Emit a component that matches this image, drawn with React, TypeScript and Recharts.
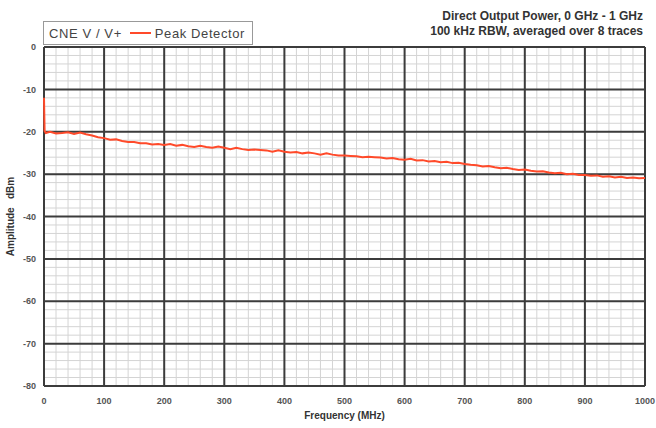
import { LineChart, Line, XAxis, YAxis, CartesianGrid, Legend } from 'recharts';

// trace (MHz vs dBm)
const freqMHz = [
  0, 1, 3, 10, 20, 30, 40, 50, 60, 70, 80, 90, 100, 110, 120, 130, 140, 150, 160, 170, 180, 190,
  200, 210, 220, 230, 240, 250, 260, 270, 280, 290, 300, 310, 320, 330, 340, 350, 360, 370, 380, 390,
  400, 410, 420, 430, 440, 450, 460, 470, 480, 490, 500, 510, 520, 530, 540, 550, 560, 570, 580, 590,
  600, 610, 620, 630, 640, 650, 660, 670, 680, 690, 700, 710, 720, 730, 740, 750, 760, 770, 780, 790,
  800, 810, 820, 830, 840, 850, 860, 870, 880, 890, 900, 910, 920, 930, 940, 950, 960, 970, 980, 990, 1000,
];
const peakDbm = [
  -12, -19.8, -20.3, -20.0, -20.4, -20.3, -20.1, -20.5, -20.2, -20.6, -20.9, -21.3, -21.5, -21.9, -21.8, -22.2, -22.4, -22.4, -22.7, -22.7, -23.0, -22.9,
  -23.1, -22.9, -23.3, -23.1, -23.4, -23.6, -23.3, -23.6, -23.8, -23.5, -23.8, -24.1, -23.8, -24.1, -24.3, -24.2, -24.3, -24.4, -24.7, -24.4,
  -24.7, -24.9, -24.8, -25.1, -24.9, -25.1, -25.4, -25.1, -25.4, -25.6, -25.6, -25.7, -25.8, -26.0, -25.9, -26.0, -26.1, -26.3, -26.2, -26.5,
  -26.6, -26.4, -26.8, -26.7, -27.0, -26.9, -27.2, -27.1, -27.4, -27.3, -27.6, -27.8, -27.9, -28.2, -28.1, -28.4, -28.6, -28.5, -28.8, -29.0,
  -28.9, -29.2, -29.4, -29.3, -29.6, -29.8, -29.7, -30.0, -29.9, -30.2, -30.2, -30.4, -30.3, -30.6, -30.5, -30.8, -30.6, -30.9, -30.8, -31.0, -30.9,
];

const xTicks = [0, 100, 200, 300, 400, 500, 600, 700, 800, 900, 1000];
const yTicks = [0, -10, -20, -30, -40, -50, -60, -70, -80];
const xMinorTicks = Array.from({ length: 51 }, (_, i) => i * 20);
const yMinorTicks = Array.from({ length: 41 }, (_, i) => -i * 2);

const data = freqMHz.map((f, i) => ({ f, peak: peakDbm[i] }));

const font = '"Liberation Sans", Arial, sans-serif';
const tickStyle = { fontSize: 9, fill: '#555', fontWeight: 700, fontFamily: font };
const labelStyle = { fontSize: 10, fontWeight: 700, fill: '#333', fontFamily: font };

function LegendBox() {
  return (
    <div style={{
      border: '1px solid #999', background: '#fff', height: 22, width: 208,
      display: 'flex', alignItems: 'center', fontFamily: font, fontSize: 13, color: '#444',
      letterSpacing: 0.6, whiteSpace: 'nowrap',
    }}>
      <span style={{ marginLeft: 5 }}>CNE V / V+</span>
      <span style={{ display: 'inline-block', width: 21, height: 2, background: '#ff4a2a', margin: '0 4px 0 8px' }} />
      <span>Peak Detector</span>
    </div>
  );
}

export default function App() {
  return (
    <div style={{ position: 'absolute', left: 0, top: 0, width: 656, height: 428, background: '#fff' }}>
      <div style={{
        position: 'absolute', right: 13, top: 9, textAlign: 'right', fontFamily: font,
        fontSize: 12, fontWeight: 700, color: '#333', lineHeight: '15px', whiteSpace: 'nowrap',
      }}>
        <div>Direct Output Power, 0 GHz - 1 GHz</div>
        <div>100 kHz RBW, averaged over 8 traces</div>
      </div>
      <LineChart width={656} height={428} data={data} margin={{ top: 47, right: 11, left: 0, bottom: 0 }}>
        <CartesianGrid verticalValues={xMinorTicks} horizontalValues={yMinorTicks} stroke="#d4d4d4" strokeWidth={1} />
        <CartesianGrid verticalValues={xTicks} horizontalValues={yTicks} stroke="#3c3c3c" strokeWidth={2} />
        <XAxis
          dataKey="f" type="number" domain={[0, 1000]} ticks={xTicks} interval={0}
          tickLine={false} axisLine={false} tick={tickStyle} tickMargin={6} height={42}
          label={{ value: 'Frequency (MHz)', position: 'insideBottom', offset: 9, style: labelStyle }}
        />
        <YAxis
          type="number" domain={[-80, 0]} ticks={yTicks} interval={0}
          tickLine={false} axisLine={false} tick={tickStyle} width={44}
          label={{ value: 'Amplitude\u00a0\u00a0\u00a0dBm', angle: -90, position: 'insideLeft', offset: 10, style: { ...labelStyle, textAnchor: 'middle' } }}
        />
        <Legend verticalAlign="middle" align="center" wrapperStyle={{ top: 21, left: 43, width: 'auto', height: 'auto' }} content={() => <LegendBox />} />
        <Line type="linear" dataKey="peak" stroke="#ff4a2a" strokeWidth={2} dot={false} isAnimationActive={false} />
      </LineChart>
    </div>
  );
}
